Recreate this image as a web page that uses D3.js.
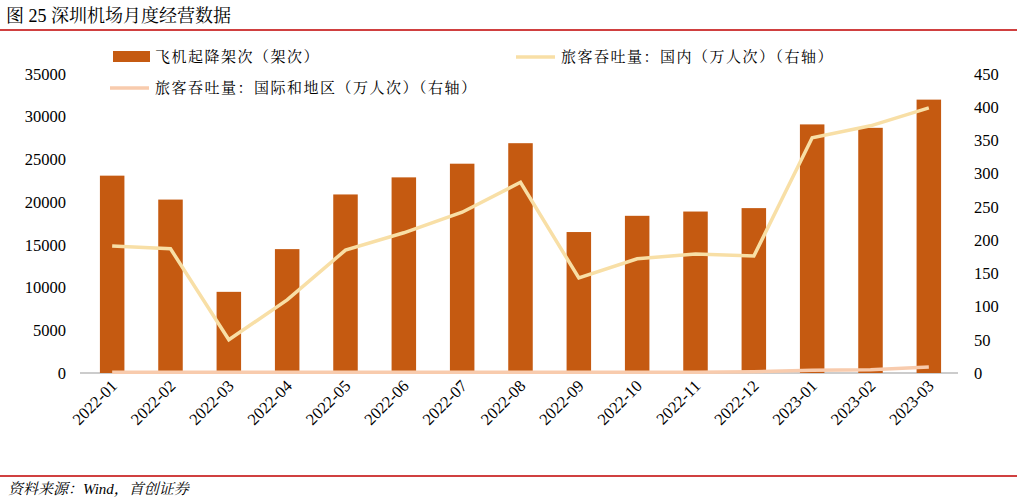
<!DOCTYPE html>
<html><head><meta charset="utf-8">
<script src="https://cdn.jsdelivr.net/npm/d3@7"></script>
<style>body{margin:0;background:#fff}text{font-family:"Liberation Serif","Noto Serif CJK SC","Noto Sans CJK SC",serif}</style>
</head><body><svg id="c" width="1017" height="502"></svg>
<script>
const months = ["2022-01","2022-02","2022-03","2022-04","2022-05","2022-06","2022-07","2022-08","2022-09","2022-10","2022-11","2022-12","2023-01","2023-02","2023-03"];
const flights = [23100,20300,9500,14500,20900,22900,24500,26900,16500,18400,18900,19300,29100,28700,32000];
const domestic = [191,187,50,110,185,211,242,287,143,172,179,176,354,372,399];
const intl = [1,1,1,1,1,1,1,1,1,1,1,2,4,5,9];
const leftTicks = d3.range(0,35001,5000), rightTicks = d3.range(0,451,50);

const svg = d3.select("#c");
svg.append("text").attr("x",6).attr("y",22).attr("font-size",18).attr("font-family","Noto Sans CJK SC").text("图 25  深圳机场月度经营数据");
svg.append("line").attr("x1",0).attr("x2",1017).attr("y1",30).attr("y2",30).attr("stroke","#c00000").attr("stroke-width",1.5);
svg.append("line").attr("x1",0).attr("x2",1017).attr("y1",476).attr("y2",476).attr("stroke","#c00000").attr("stroke-width",1.5);
svg.append("text").attr("x",8).attr("y",494).attr("font-size",15).attr("font-style","italic").text("资料来源：Wind，首创证券");

const x = d3.scaleBand().domain(months).range([83,958]).paddingInner(0.58).paddingOuter(0.29);
const yL = d3.scaleLinear().domain([0,35000]).range([373,74]);
const yR = d3.scaleLinear().domain([0,450]).range([373,74]);

const axL = svg.append("g").attr("transform","translate(80,0)").call(d3.axisLeft(yL).tickValues(leftTicks).tickFormat(d3.format("d")).tickSize(0).tickPadding(14));
const axR = svg.append("g").attr("transform","translate(958,0)").call(d3.axisRight(yR).tickValues(rightTicks).tickSize(0).tickPadding(16));
[axL,axR].forEach(a=>{a.select(".domain").remove();a.selectAll("text").attr("font-size",16.5).attr("fill","#000").attr("font-family","Liberation Serif");});
svg.append("line").attr("x1",80).attr("x2",958).attr("y1",373).attr("y2",373).attr("stroke","#999");

svg.selectAll(".bar").data(flights).join("rect").attr("x",(d,i)=>x(months[i])).attr("width",x.bandwidth())
  .attr("y",d=>yL(d)).attr("height",d=>373-yL(d)).attr("fill","#c55a11");

const cx = m=>x(m)+x.bandwidth()/2;
const line = d3.line().x((d,i)=>cx(months[i])).y(d=>yR(d));
svg.append("path").datum(domestic).attr("d",line).attr("fill","none").attr("stroke","#f8dfa6").attr("stroke-width",3.5);
svg.append("path").datum(intl).attr("d",line).attr("fill","none").attr("stroke","#f8cbad").attr("stroke-width",3.5);

svg.selectAll(".xl").data(months).join("text").attr("font-size",16.5).attr("text-anchor","end").attr("font-family","Liberation Serif")
  .attr("transform",m=>`translate(${cx(m)+6},${387}) rotate(-45)`).text(m=>m);

const lg = svg.append("g").attr("font-size",15);
lg.append("rect").attr("x",113).attr("y",51).attr("width",37).attr("height",11).attr("fill","#c55a11");
lg.append("text").attr("x",155).attr("y",62).attr("letter-spacing",1.5).text("飞机起降架次（架次）");
lg.append("line").attr("x1",516).attr("x2",555).attr("y1",57).attr("y2",57).attr("stroke","#f8dfa6").attr("stroke-width",3.5);
lg.append("text").attr("x",561).attr("y",62).attr("letter-spacing",1.5).text("旅客吞吐量：国内（万人次）（右轴）");
lg.append("line").attr("x1",110).attr("x2",149).attr("y1",88).attr("y2",88).attr("stroke","#f8cbad").attr("stroke-width",3.5);
lg.append("text").attr("x",155).attr("y",93).attr("letter-spacing",1.5).text("旅客吞吐量：国际和地区（万人次）（右轴）");
</script></body></html>
